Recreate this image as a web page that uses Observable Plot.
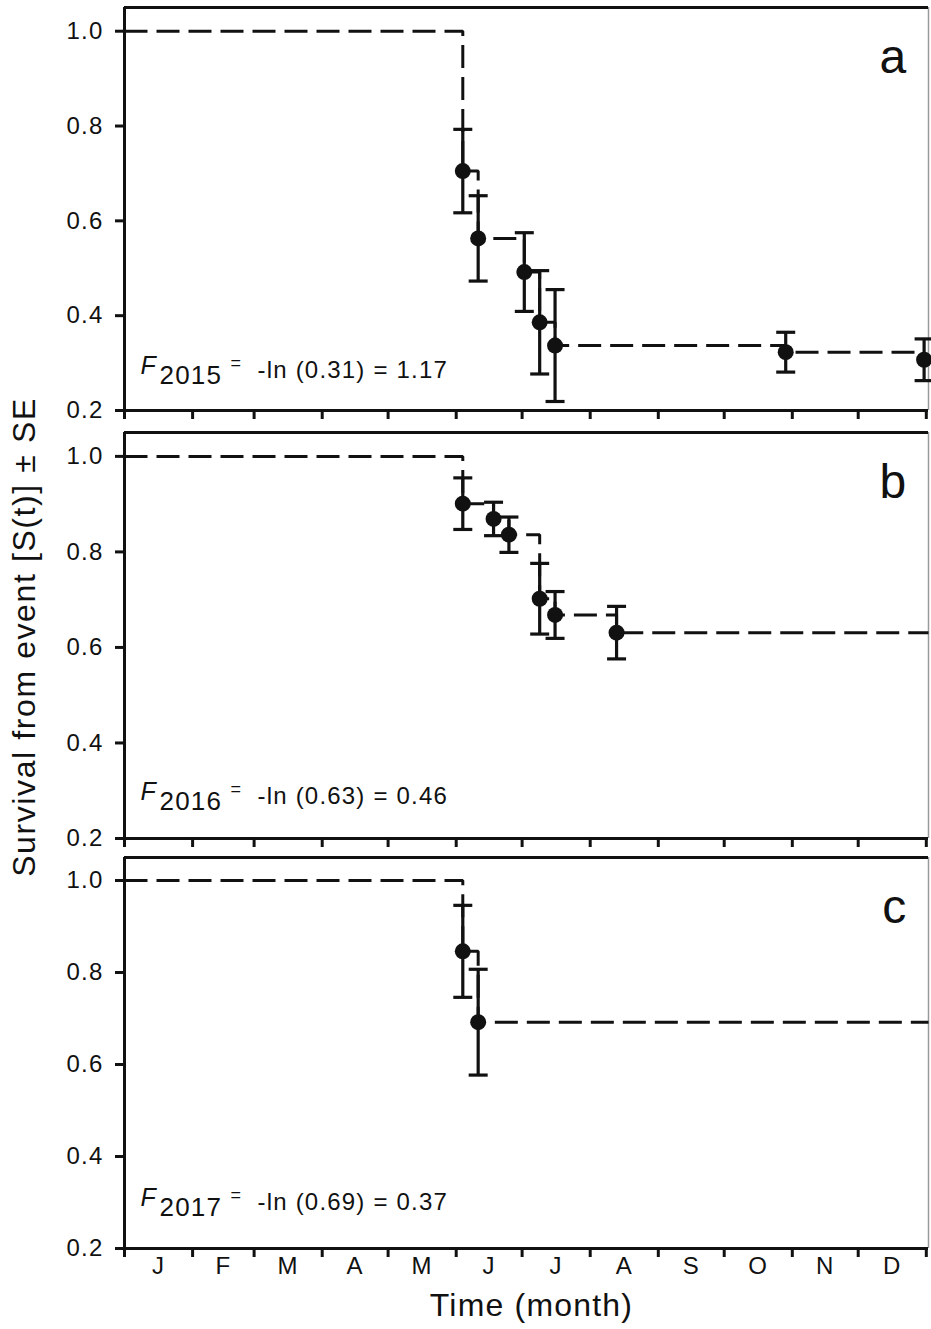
<!DOCTYPE html>
<html>
<head>
<meta charset="utf-8">
<script src="https://cdn.jsdelivr.net/npm/d3@7"></script>
<script src="https://cdn.jsdelivr.net/npm/@observablehq/plot@0.6"></script>
<style>
  body { margin: 0; background: #fff; }
  #chart { position: relative; width: 931px; height: 1329px; overflow: hidden;
           font-family: "Liberation Sans", Arial, sans-serif; color: #111; background: #fff; }
  #chart svg { display: block; }
  #ytitle { position: absolute; left: 24px; top: 637px; transform: translate(-50%, -50%) rotate(-90deg);
            white-space: nowrap; font-size: 32px; letter-spacing: 1.6px; line-height: 1; }
</style>
</head>
<body>
<div id="chart"><div id="ytitle">Survival from event [S(t)] ± SE</div></div>
<script>
// Calendar axis: day of year, month boundaries and initials
const monthLetters = ["J", "F", "M", "A", "M", "J", "J", "A", "S", "O", "N", "D"];
const monthStarts = [0, 31, 59, 90, 120, 151, 181, 212, 243, 273, 304, 334, 365];
const dayDomain = [0, 366];
const survDomain = [0.2, 1.05];
const yTicks = [0.2, 0.4, 0.6, 0.8, 1.0];
const startSurvival = 1.0;

const years = [2015, 2016, 2017];
const panelLetters = ["a", "b", "c"];

// Kaplan–Meier survival estimates S(t) with standard errors, per year
const days2015 = [154, 161, 182, 189, 196, 301, 364];
const surv2015 = [0.705, 0.563, 0.492, 0.386, 0.337, 0.323, 0.307];
const se2015   = [0.088, 0.090, 0.083, 0.109, 0.118, 0.042, 0.044];

const days2016 = [154, 168, 175, 189, 196, 224];
const surv2016 = [0.901, 0.869, 0.836, 0.702, 0.668, 0.631];
const se2016   = [0.054, 0.035, 0.037, 0.074, 0.049, 0.055];

const days2017 = [154, 161];
const surv2017 = [0.846, 0.692];
const se2017   = [0.100, 0.115];

const panelDays = [days2015, days2016, days2017];
const panelSurv = [surv2015, surv2016, surv2017];
const panelSe   = [se2015, se2016, se2017];

// Layout of the three stacked panels
const layout = [
  {height: 422, marginTop: 7,  marginBottom: 12, annoBase: 33, months: false},
  {height: 426, marginTop: 10, marginBottom: 10, annoBase: 35, months: false},
  {height: 481, marginTop: 9,  marginBottom: 81, annoBase: 39, months: true}
];

const ink = "#111";

// Horizontal bar used as an error-bar cap
const capSymbol = {
  draw(ctx, size) {
    const r = Math.sqrt(size / Math.PI);
    ctx.moveTo(-r, 0);
    ctx.lineTo(r, 0);
  }
};

function panel(k) {
  const L = layout[k];
  const days = panelDays[k], surv = panelSurv[k], se = panelSe[k];
  const pts = days.map((d, i) => ({day: d, s: surv[i], lo: surv[i] - se[i], hi: surv[i] + se[i]}));
  const last = surv[surv.length - 1];
  const steps = [{day: dayDomain[0], s: startSurvival}, ...pts, {day: dayDomain[1], s: last}];

  const sFinal = +last.toFixed(2);
  const fText = `-ln (${sFinal.toFixed(2)}) = ${(-Math.log(sFinal)).toFixed(2)}`;
  const base = L.annoBase;
  const anno = {frameAnchor: "bottom-left", textAnchor: "start", lineAnchor: "bottom", fill: ink};

  const marks = [
    // frame
    Plot.ruleX([dayDomain[0]], {stroke: ink, strokeWidth: 3}),
    Plot.ruleX([dayDomain[1]], {stroke: "#9a9a9a", strokeWidth: 1.5}),
    Plot.ruleY([survDomain[0]], {stroke: ink, strokeWidth: 3}),
    Plot.ruleY([survDomain[1]], {stroke: ink, strokeWidth: 3}),
    // axes
    Plot.axisY({ticks: yTicks, tickSize: 9, tickPadding: 12, tickFormat: d3.format(".1f"),
                stroke: ink, strokeWidth: 3, fill: ink, fontSize: 24, label: null}),
    Plot.axisX({ticks: monthStarts, tickSize: 9, tickFormat: () => "",
                stroke: ink, strokeWidth: 3, label: null}),
    // survival step function
    Plot.line(steps, {x: "day", y: "s", curve: "step-after", stroke: ink, strokeWidth: 3,
                      strokeDasharray: "23,9", strokeLinecap: "butt", strokeLinejoin: "miter"}),
    // ± SE bars
    Plot.ruleX(pts, {x: "day", y1: "lo", y2: "hi", stroke: ink, strokeWidth: 3.2}),
    Plot.dot(pts, {x: "day", y: "hi", symbol: capSymbol, r: 9.5, stroke: ink, strokeWidth: 3.2,
                   fill: "none", strokeLinecap: "butt"}),
    Plot.dot(pts, {x: "day", y: "lo", symbol: capSymbol, r: 9.5, stroke: ink, strokeWidth: 3.2,
                   fill: "none", strokeLinecap: "butt"}),
    Plot.dot(pts, {x: "day", y: "s", r: 8, fill: ink, stroke: "none"}),
    // panel letter
    Plot.text([panelLetters[k]], {text: d => d, frameAnchor: "top-right", textAnchor: "end",
                                  lineAnchor: "middle", dx: -21, dy: 50, fontSize: 48, fill: ink}),
    // annual mortality rate
    Plot.text(["F"], {...anno, text: d => d, dx: 16, dy: -(base + 4), fontSize: 25, fontStyle: "italic"}),
    Plot.text([String(years[k])], {...anno, text: d => d, dx: 35, dy: -(base - 6), fontSize: 26}),
    Plot.text(["="], {...anno, text: d => d, dx: 106, dy: -(base + 9), fontSize: 18}),
    Plot.text([fText], {...anno, text: d => d, dx: 133, dy: -base, fontSize: 24})
  ];

  if (L.months) {
    marks.push(
      Plot.text(monthLetters, {x: (d, i) => (monthStarts[i] + monthStarts[i + 1]) / 2, text: d => d,
                               frameAnchor: "bottom", lineAnchor: "top", dy: 8, fontSize: 24, fill: ink}),
      Plot.text(["Time (month)"], {text: d => d, frameAnchor: "bottom", lineAnchor: "bottom",
                                    dx: 5, dy: 67, fontSize: 32, fill: ink})
    );
  }

  return Plot.plot({
    width: 931,
    height: L.height,
    marginLeft: 124,
    marginRight: 3,
    marginTop: L.marginTop,
    marginBottom: L.marginBottom,
    x: {domain: dayDomain, axis: null},
    y: {domain: survDomain, axis: null},
    style: {fontFamily: "'Liberation Sans', Arial, sans-serif", fontSize: "24px",
            letterSpacing: "1.2px", color: ink, background: "transparent", overflow: "visible"},
    marks
  });
}

const chart = document.getElementById("chart");
for (let k = 0; k < 3; k++) chart.appendChild(panel(k));
</script>
</body>
</html>
